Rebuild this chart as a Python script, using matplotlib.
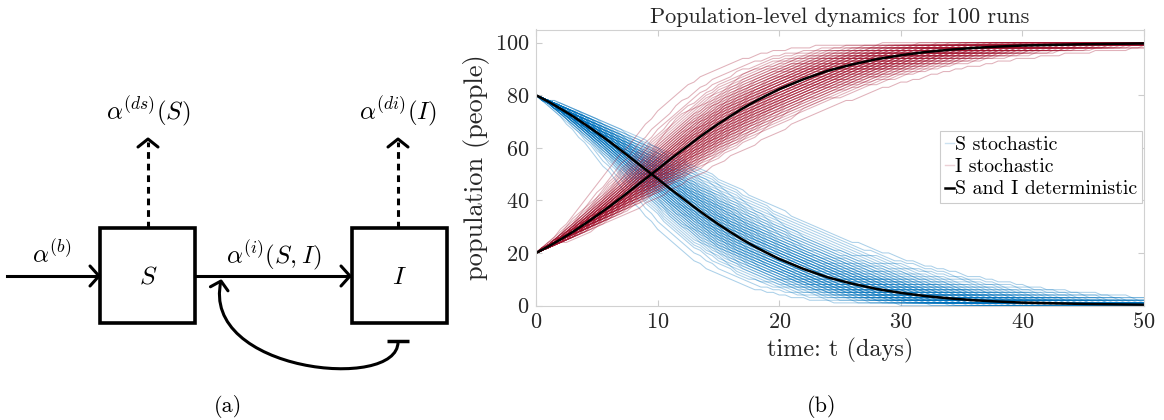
import numpy as np
import matplotlib
matplotlib.use("Agg")
import matplotlib.pyplot as plt
from matplotlib.lines import Line2D
from matplotlib.patches import Rectangle, PathPatch
from matplotlib.path import Path

plt.rcParams['font.family'] = 'serif'
plt.rcParams['font.serif'] = ['cmr10']
plt.rcParams['mathtext.fontset'] = 'cm'
plt.rcParams['axes.formatter.use_mathtext'] = True

# ---------------- data ----------------
t_det = [0, 1, 2, 3, 4, 5, 6, 7, 8, 9, 10, 11, 12, 13, 14, 15, 16, 17, 18, 19, 20,
         22, 24, 26, 28, 30, 32, 34, 36, 38, 40, 45, 50]
I_det = [20.0, 22.4, 25.1, 27.9, 31.0, 34.2, 37.5, 41.0, 44.6, 48.2, 51.8, 55.5, 59.0,
         62.5, 65.9, 69.1, 72.1, 75.0, 77.6, 80.0, 82.3, 86.1, 89.3, 91.7, 93.7, 95.2,
         96.4, 97.3, 98.0, 98.5, 98.9, 99.4, 99.7]
S_det = [80.0, 77.6, 74.9, 72.1, 69.0, 65.8, 62.5, 59.0, 55.4, 51.8, 48.2, 44.5, 41.0,
         37.5, 34.1, 30.9, 27.9, 25.0, 22.4, 20.0, 17.7, 13.9, 10.7, 8.3, 6.3, 4.8,
         3.6, 2.7, 2.0, 1.5, 1.1, 0.6, 0.3]
det_half_time = 9.5   # day where deterministic S and I cross 50

# day at which each stochastic run crosses 50 people (spread of the bands)
I_run_half_times = [5.74, 6.34, 6.66, 6.88, 7.06, 7.20, 7.33, 7.44, 7.54, 7.63, 7.72, 7.80,
                    7.87, 7.95, 8.01, 8.08, 8.14, 8.20, 8.26, 8.31, 8.36, 8.42, 8.47, 8.52,
                    8.56, 8.61, 8.66, 8.70, 8.75, 8.79, 8.83, 8.88, 8.92, 8.96, 9.00, 9.04,
                    9.08, 9.12, 9.16, 9.20, 9.24, 9.28, 9.32, 9.35, 9.39, 9.43, 9.47, 9.51,
                    9.54, 9.58, 9.62, 9.66, 9.69, 9.73, 9.77, 9.81, 9.85, 9.88, 9.92, 9.96,
                    10.00, 10.04, 10.08, 10.12, 10.16, 10.20, 10.24, 10.28, 10.33, 10.37,
                    10.41, 10.45, 10.50, 10.54, 10.59, 10.64, 10.68, 10.73, 10.78, 10.84,
                    10.89, 10.94, 11.00, 11.06, 11.12, 11.18, 11.25, 11.32, 11.40, 11.46,
                    11.55, 11.63, 11.73, 11.83, 11.94, 12.06, 12.22, 12.40, 12.64, 13.46]
S_run_half_times = [6.10, 6.55, 6.85, 7.02, 7.18, 7.31, 7.42, 7.52, 7.61, 7.69, 7.77, 7.84,
                    7.91, 7.98, 8.04, 8.10, 8.16, 8.22, 8.27, 8.33, 8.38, 8.43, 8.48, 8.53,
                    8.58, 8.63, 8.68, 8.72, 8.77, 8.82, 8.86, 8.91, 8.95, 9.00, 9.04, 9.09,
                    9.13, 9.18, 9.22, 9.27, 9.31, 9.36, 9.40, 9.45, 9.49, 9.54, 9.58, 9.63,
                    9.67, 9.72, 9.77, 9.81, 9.86, 9.91, 9.96, 10.01, 10.06, 10.11, 10.16,
                    10.21, 10.26, 10.32, 10.37, 10.43, 10.48, 10.54, 10.60, 10.66, 10.72,
                    10.78, 10.85, 10.91, 10.98, 11.05, 11.12, 11.20, 11.28, 11.36, 11.45,
                    11.54, 11.63, 11.73, 11.84, 11.95, 12.07, 12.20, 12.34, 12.49, 12.66,
                    12.85, 13.06, 13.30, 13.58, 13.92, 14.35]
sample_step = 0.5     # days between recorded samples of a run

title = "Population-level dynamics for 100 runs"
xlabel = "time: t (days)"
ylabel = "population (people)"
xticks = [0, 10, 20, 30, 40, 50]
yticks = [0, 20, 40, 60, 80, 100]
legend_labels = ["S stochastic", "I stochastic", "S and I deterministic"]

# ---------------- figure ----------------
fig = plt.figure(figsize=(11.64, 4.2), dpi=100)

blue = (0.0, 0.447, 0.741)
red = (0.635, 0.078, 0.184)
run_alpha = 0.33
txt = (0.15, 0.15, 0.15)


def run_curve(t, half_time, det_values):
    # run follows the deterministic shape, stretched so it crosses 50 at half_time
    return np.round(np.interp(t * det_half_time / half_time, t_det, det_values))


# ---------------- (b) plot ----------------
ax = fig.add_axes([536 / 1164, (420 - 305.5) / 420, 608 / 1164, 276 / 420])
t_run = np.arange(0, 50 + 1e-9, sample_step)
for th in S_run_half_times:
    ax.plot(t_run, run_curve(t_run, th, S_det), color=blue, alpha=run_alpha, lw=0.75)
for th in I_run_half_times:
    ax.plot(t_run, run_curve(t_run, th, I_det), color=red, alpha=run_alpha, lw=0.75)
ax.plot(t_det, S_det, color='black', lw=1.8)
ax.plot(t_det, I_det, color='black', lw=1.8)

ax.set_xlim(0, 50)
ax.set_ylim(0, 105)
ax.set_xticks(xticks)
ax.set_yticks(yticks)
for sp in ax.spines.values():
    sp.set_color((0.82, 0.82, 0.82))
    sp.set_linewidth(0.8)
ax.tick_params(direction='in', length=4, width=0.8, color=(0.8, 0.8, 0.8),
               labelsize=16, labelcolor=txt, top=True, right=True, pad=5)
ax.set_title(title, fontsize=16, color=txt, pad=5)
ax.set_xlabel(xlabel, fontsize=17.5, color=txt, labelpad=4)
ax.set_ylabel(ylabel, fontsize=19, color=txt, labelpad=3)

handles = [Line2D([], [], color=blue, alpha=0.2, lw=1.0),
           Line2D([], [], color=red, alpha=0.2, lw=1.0),
           Line2D([], [], color='black', lw=1.8)]
leg = ax.legend(handles, legend_labels, loc='upper left',
                bbox_to_anchor=((940 - 536) / 608, (305.5 - 131) / 276),
                fontsize=14.3, handlelength=0.45, handletextpad=0.05, borderpad=0.25,
                labelspacing=0.22, borderaxespad=0, fancybox=False, framealpha=1,
                edgecolor=(0.8, 0.8, 0.8))
leg.get_frame().set_linewidth(0.8)

# ---------------- (a) diagram ----------------
dax = fig.add_axes([0, 0, 480 / 1164, 1])
dax.set_xlim(0, 480)
dax.set_ylim(420, 0)
dax.axis('off')
lw = 2.2

def chevron(tip, direction, length=9, half=10):
    d = np.array(direction, float)
    d /= np.hypot(*d)
    n = np.array([-d[1], d[0]])
    tip = np.array(tip, float)
    a = tip - d * length + n * half
    b = tip - d * length - n * half
    dax.plot([a[0], tip[0], b[0]], [a[1], tip[1], b[1]], color='black', lw=lw,
             solid_capstyle='round', solid_joinstyle='round')

for x0 in (100, 352):
    dax.add_patch(Rectangle((x0, 228), 95, 95, fill=False, lw=lw + 0.4, ec='black',
                            joinstyle='miter'))
dax.text(148, 277, r"$S$", fontsize=18.5, ha='center', va='center')
dax.text(399, 277, r"$I$", fontsize=18.5, ha='center', va='center')

# inflow
dax.plot([7, 99], [276, 276], color='black', lw=lw)
chevron((99, 276), (1, 0))
dax.text(52, 254, r"$\alpha^{(b)}$", fontsize=18, ha='center', va='center')

# infection flow
dax.plot([195, 350], [276, 276], color='black', lw=lw)
chevron((350, 276), (1, 0))
dax.text(274, 256, r"$\alpha^{(i)}(S,I)$", fontsize=18, ha='center', va='center')

# deaths (dashed)
for xc, lab in ((148, r"$\alpha^{(ds)}(S)$"), (398, r"$\alpha^{(di)}(I)$")):
    dax.plot([xc, xc], [228, 142], color='black', lw=lw, ls=(0, (2.2, 1.6)))
    chevron((xc, 139), (0, -1), length=8, half=10)
    dax.text(xc, 112, lab, fontsize=18, ha='center', va='center')

# feedback curve with T-bar
P0, P1, P2, P3 = (398, 342), (398, 392), (200, 372), (221, 281)
curve = Path([P0, P1, P2, P3], [Path.MOVETO, Path.CURVE4, Path.CURVE4, Path.CURVE4])
dax.add_patch(PathPatch(curve, fill=False, lw=lw, ec='black'))
dax.plot([387, 409], [341, 341], color='black', lw=lw + 0.3, solid_capstyle='butt')
chevron(P3, (P3[0] - P2[0], P3[1] - P2[1]), length=8, half=9)

# panel labels
fig.text(228 / 1164, 1 - 406 / 420, "(a)", fontsize=16, ha='center', va='center')
fig.text(822 / 1164, 1 - 406 / 420, "(b)", fontsize=16, ha='center', va='center')

fig.savefig("out.png", dpi=100)
